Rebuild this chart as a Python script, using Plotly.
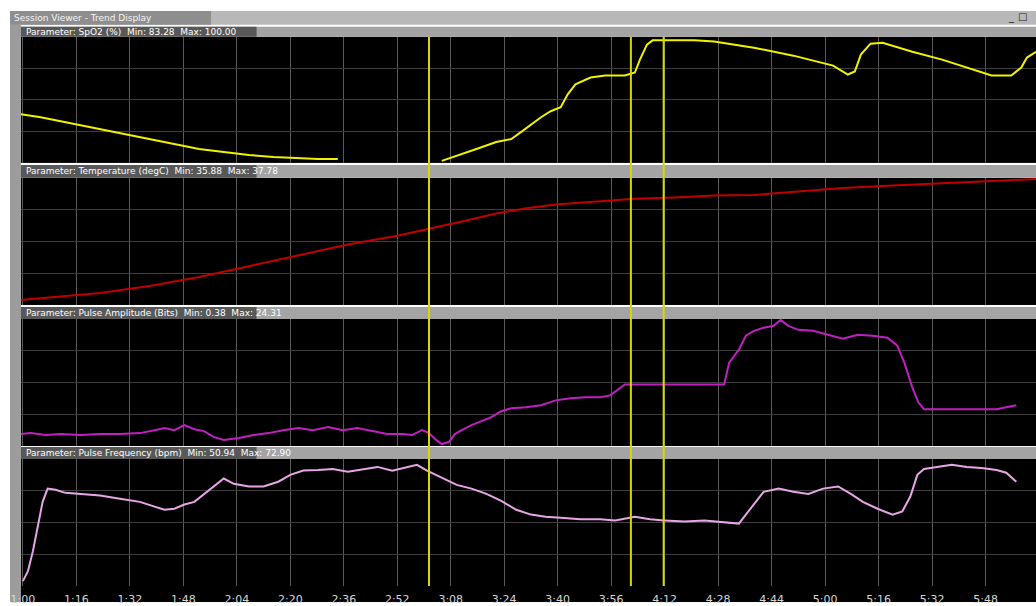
import plotly.graph_objects as go
from plotly.subplots import make_subplots

W, H = 1036, 606
DX = 9  # page offset of the plot div, compensated in all paper-x positions

# ---- time axis (seconds) ----
tick_secs = list(range(60, 349, 16))
tick_text = [f"{s // 60}:{s % 60:02d}" for s in tick_secs]
t_range = [59.4, 363.1]

# event markers (seconds)
event_secs = [181.5, 241.9, 251.7]

# ---- SpO2 (%) ----
spo2_t = [59.4, 65.3, 71.3, 77.2, 83.1, 90.5, 97.9, 105.3, 112.7, 120.1, 127.6, 135.0,
          142.4, 148.3, 154.2, 170.0,
          185.3, 189.8, 195.7, 201.6, 206.1, 209.0, 212.0, 215.0, 217.9, 220.9, 223.0,
          225.3, 229.8, 234.2, 240.1, 243.1, 244.6, 246.7, 248.4, 260.9, 266.8, 278.7,
          290.5, 302.4, 306.8, 308.9, 310.7, 313.6, 317.2, 326.1, 335.0, 343.9, 349.8,
          355.7, 358.7, 360.4, 363.1]
spo2_v = [89.75, 89.34, 88.79, 88.24, 87.68, 86.99, 86.31, 85.62, 84.93, 84.52, 84.10, 83.83,
          83.69, 83.55, 83.55, None,
          83.28, 83.96, 84.93, 85.89, 86.31, 87.27, 88.37, 89.34, 90.17, 90.72, 92.51,
          93.89, 94.85, 95.13, 95.13, 95.54, 97.33, 99.40, 100.00, 100.00, 99.85, 98.98,
          97.88, 96.50, 95.26, 95.68, 98.02, 99.54, 99.67, 98.43, 97.33, 95.95, 95.13,
          95.13, 96.23, 97.61, 98.40]

# ---- Temperature (degC) ----
temp_t = [59.4, 71.3, 83.1, 97.9, 112.7, 127.6, 142.4, 157.2, 172.0, 180.9, 192.7, 201.6,
          210.5, 219.4, 231.3, 243.1, 255.0, 266.8, 278.7, 290.5, 305.4, 320.2, 335.0,
          349.8, 363.1]
temp_v = [35.88, 35.93, 35.99, 36.10, 36.24, 36.41, 36.58, 36.75, 36.89, 36.99, 37.13, 37.24,
          37.32, 37.38, 37.43, 37.47, 37.49, 37.52, 37.53, 37.58, 37.64, 37.68, 37.72,
          37.75, 37.78]

# ---- Pulse amplitude (bits) ----
amp_t = [59.4, 62.4, 66.8, 71.3, 77.2, 83.1, 89.0, 95.0, 99.4, 102.4, 105.3, 108.3, 111.3,
         114.2, 117.2, 120.1, 124.6, 129.0, 133.5, 137.9, 142.4, 146.8, 151.3, 155.7,
         160.1, 164.6, 169.0, 173.5, 176.4, 179.4, 181.5, 183.3, 185.3, 187.4, 189.2,
         191.3, 194.2, 197.2, 200.1, 203.1, 206.1, 210.5, 215.0, 219.4, 223.9, 228.3,
         232.7, 235.7, 237.8, 240.1, 249.0, 260.9, 269.8, 271.3, 274.2, 276.3, 278.7,
         281.6, 284.6, 286.7, 289.0, 292.0, 296.4, 300.9, 305.3, 309.8, 314.2, 318.7,
         321.6, 323.7, 326.1, 327.9, 329.6, 335.0, 343.9, 351.3, 354.2, 357.2]
amp_v = [2.30, 2.49, 2.11, 2.30, 2.11, 2.30, 2.30, 2.49, 3.06, 3.45, 3.06, 4.02, 3.25,
         2.87, 1.72, 1.15, 1.53, 2.11, 2.49, 3.06, 3.45, 3.06, 3.64, 3.06,
         3.45, 2.87, 2.30, 2.30, 2.11, 3.06, 2.49, 1.34, 0.38, 0.77, 2.30,
         3.06, 4.02, 4.79, 5.55, 6.70, 7.27, 7.46, 7.85, 8.80, 9.19, 9.38,
         9.38, 9.76, 10.72, 11.87, 11.87, 11.87, 11.87, 16.08, 18.57, 21.25, 22.20,
         22.78, 23.16, 24.31, 23.16, 22.39, 22.20, 21.44, 20.67, 21.44, 21.25, 20.86,
         19.33, 16.08, 11.29, 8.42, 7.08, 7.08, 7.08, 7.08, 7.46, 7.85]

# ---- Pulse frequency (bpm) ----
hr_t = [60.0, 61.5, 63.0, 64.4, 65.9, 67.4, 69.8, 72.7, 77.2, 83.1, 89.0, 95.0, 99.4, 102.4,
        105.3, 108.3, 111.3, 114.2, 117.2, 120.1, 123.1, 127.6, 132.0, 136.4, 140.0,
        143.9, 148.3, 152.7, 157.2, 161.6, 166.1, 170.5, 175.0, 177.9, 180.9, 185.3,
        189.8, 194.2, 198.7, 203.1, 207.6, 212.0, 216.4, 220.9, 226.8, 232.7, 237.2,
        243.1, 247.6, 252.0, 257.9, 263.9, 269.8, 274.2, 276.3, 278.7, 281.6, 286.1,
        290.5, 295.0, 299.4, 303.9, 307.7, 311.3, 315.7, 320.2, 323.1, 325.5, 327.6,
        329.6, 333.5, 337.9, 342.4, 346.8, 351.3, 354.2, 357.2]
hr_v = [50.94, 52.8, 56.6, 61.3, 65.9, 68.4, 68.2, 67.6, 67.4, 67.1, 66.5, 65.9, 65.0, 64.4,
        64.6, 65.4, 65.9, 67.3, 68.8, 70.3, 69.3, 68.8, 68.8, 69.7, 71.0,
        71.8, 71.9, 72.1, 71.6, 72.1, 72.5, 71.8, 72.5, 72.9, 71.8, 70.4,
        69.1, 68.4, 67.4, 66.1, 64.4, 63.5, 63.1, 62.9, 62.6, 62.6, 62.4,
        63.1, 62.6, 62.4, 62.2, 62.4, 62.0, 61.8, 63.5, 65.4, 67.8, 68.4,
        67.8, 67.4, 68.4, 68.8, 67.4, 65.9, 64.6, 63.5, 64.1, 66.9, 71.0,
        72.1, 72.5, 72.9, 72.5, 72.3, 71.9, 71.4, 69.7]


def vmin(vals):
    return min(v for v in vals if v is not None)


def vmax(vals):
    return max(v for v in vals if v is not None)


panels = [
    dict(name="SpO2 (%)", t=spo2_t, v=spo2_v, color="#f2f200", yr=[83.0, 100.5],
         top=37, bottom=164, head=(27, 37)),
    dict(name="Temperature (degC)", t=temp_t, v=temp_v, color="#c00000", yr=[35.8, 37.8],
         top=179, bottom=307, head=(166, 179)),
    dict(name="Pulse Amplitude (Bits)", t=amp_t, v=amp_v, color="#c020c0", yr=[0.0, 24.5],
         top=321, bottom=449, head=(309, 321)),
    dict(name="Pulse Frequency (bpm)", t=hr_t, v=hr_v, color="#e8a6e8", yr=[50.0, 74.0],
         top=462, bottom=590, head=(450, 462)),
]

fig = make_subplots(rows=4, cols=1, shared_xaxes=True)

shapes = []
annotations = []


def px(x):
    return max(0.0, (x - DX) / W)


def px_rect(x0, y0, x1, y1, color, layer="above"):
    right = 1.0 if x1 >= W else px(x1)
    shapes.append(dict(type="rect", xref="paper", yref="paper",
                       x0=px(x0), x1=right, y0=1 - y1 / H, y1=1 - y0 / H,
                       line=dict(width=0), fillcolor=color, layer=layer))


def px_text(x, y, text, color="#ffffff", size=9, anchor="left"):
    annotations.append(dict(xref="paper", yref="paper", x=px(x), y=1 - y / H,
                            xanchor=anchor, yanchor="middle", text=text, showarrow=False,
                            font=dict(family="DejaVu Sans", size=size, color=color)))


# window frame
px_rect(8, 11, 20, 606, "#9c9c9c", layer="below")
px_rect(8, 11, 1036, 25, "#b8b8b8")
px_rect(8, 11, 212, 25, "#8e8e8e")
px_text(11, 18, "Session Viewer - Trend Display", color="#f4f4f4", size=9)
px_text(1020, 17, "_", color="#202020", size=10, anchor="center")
px_text(1031, 17, "□", color="#202020", size=10, anchor="center")
px_rect(20, 590, 1036, 606, "#000000", layer="below")

for i, p in enumerate(panels, start=1):
    fig.add_trace(go.Scatter(x=p["t"], y=p["v"], mode="lines", connectgaps=False,
                             line=dict(color=p["color"], width=2), showlegend=False),
                  row=i, col=1)
    lo, hi = p["yr"]
    q = (hi - lo) / 4
    yname = "yaxis" if i == 1 else f"yaxis{i}"
    xname = "xaxis" if i == 1 else f"xaxis{i}"
    fig.layout[yname].update(domain=[1 - p["bottom"] / H, 1 - p["top"] / H],
                             range=[lo, hi], tickvals=[lo + q, lo + 2 * q, lo + 3 * q],
                             showticklabels=False, showgrid=True, gridcolor="#3e3e3e",
                             gridwidth=1, zeroline=False, showline=False, ticks="")
    fig.layout[xname].update(domain=[px(20), 1], range=t_range, tickvals=tick_secs,
                             ticktext=tick_text, showticklabels=(i == 4),
                             showgrid=True, gridcolor="#5a5a5a", gridwidth=1,
                             zeroline=False, showline=False, ticks="",
                             ticklabelstandoff=5,
                             tickfont=dict(family="DejaVu Sans", size=11, color="#d6d6d6"))
    h0, h1 = p["head"]
    label = (f"Parameter: {p['name']}  Min: {vmin(p['v']):.2f}  "
             f"Max: {vmax(p['v']):.2f}")
    px_rect(20, h0, 1036, h1, "#a4a4a4")
    px_rect(20, h0, 258, h1, "#585858")
    px_text(23, (h0 + h1) / 2, label, size=9)

# event marker lines across all panels
for s in event_secs:
    shapes.append(dict(type="line", xref="x", yref="paper", x0=s, x1=s,
                       y0=1 - 590 / H, y1=1 - 37 / H,
                       line=dict(color="#d8d800", width=2), layer="above"))

fig.update_layout(width=W, height=H, margin=dict(l=0, r=0, t=0, b=0),
                  paper_bgcolor="#ffffff", plot_bgcolor="#000000",
                  shapes=shapes, annotations=annotations)

fig.write_html("out.html", post_script="document.body.style.margin='0';")
